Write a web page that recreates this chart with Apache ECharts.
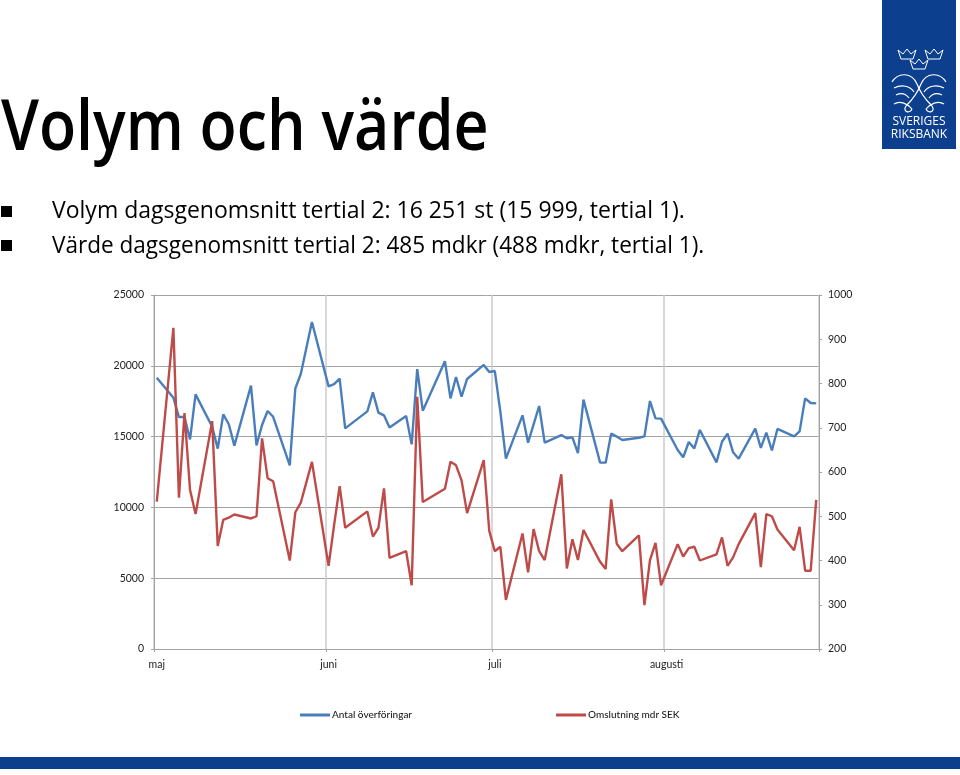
<!DOCTYPE html>
<html><head><meta charset="utf-8">
<script src="https://cdn.jsdelivr.net/npm/echarts@6/dist/echarts.min.js"></script>
<style>html,body{margin:0;padding:0;background:#fff}#c{width:960px;height:775px}</style>
</head><body><div id="c"></div>
<script>
const titleText = 'Volym och värde';
const bullets = ['Volym dagsgenomsnitt tertial 2: 16 251 st (15 999, tertial 1).','Värde dagsgenomsnitt tertial 2: 485 mdkr (488 mdkr, tertial 1).'];
const seriesNames = ['Antal överföringar','Omslutning mdr SEK'];
const monthLabels = ['maj','juni','juli','augusti'];
const monthStarts = [0,31,61,92];
const totalDays = 120;
const days = [0,3,4,5,6,7,10,11,12,13,14,17,18,19,20,21,24,25,26,28,31,32,33,34,38,39,40,41,42,45,46,47,48,52,53,54,55,56,59,60,61,62,63,66,67,68,69,70,73,74,75,76,77,80,81,82,83,84,87,88,89,90,91,94,95,96,97,98,101,102,103,104,105,108,109,110,111,112,115,116,117,118,119];
const volume = [19160,17750,16380,16380,14800,17980,15700,14150,16570,15870,14360,18600,14380,15820,16810,16400,12970,18400,19440,23090,18550,18700,19090,15580,16780,18120,16690,16500,15650,16450,14450,19770,16830,20320,17700,19210,17820,19070,20060,19560,19630,16760,13440,16500,14570,15870,17160,14570,15110,14880,14950,13840,17610,13160,13160,15210,15000,14760,14920,15020,17510,16290,16270,14050,13540,14620,14170,15470,13180,14640,15210,13890,13440,15560,14200,15280,14030,15540,15020,15370,17700,17370,17350];
const turnover = [533,926,542,733,560,505,715,433,492,497,504,495,500,676,586,579,400,509,531,623,388,480,568,474,511,454,474,563,406,421,344,770,532,562,623,615,581,507,627,467,421,431,311,461,373,471,421,401,595,382,448,401,469,397,381,538,438,421,457,299,401,440,344,437,409,428,431,400,414,452,388,407,437,507,385,505,500,470,423,476,377,377,537];

const categories = Array.from({length: totalDays}, (_, i) => {
  const m = monthStarts.indexOf(i);
  return m >= 0 ? monthLabels[m] : String(i);
});
function onDays(vals){
  const out = new Array(totalDays).fill(null);
  days.forEach((d, k) => { out[d] = vals[k]; });
  return out;
}
const isMonth = i => monthStarts.includes(i);
const BLUE = '#4a7ebb', RED = '#be4b48', NAVY = '#0d3f8f';
const W = '#fff';
const plain = v => String(v);

function crown(cx, cy){
  const s = [[-9,-6],[-6,3],[6,3],[9,-6],[4,-2],[0,-7],[-4,-2]];
  return {type:'polygon', shape:{points:s.map(p=>[cx+p[0],cy+p[1]])}, style:{fill:'none',stroke:W,lineWidth:1}};
}
function curve(x1,y1,a,b,c,d,x2,y2){
  return {type:'bezierCurve', shape:{x1,y1,cpx1:a,cpy1:b,cpx2:c,cpy2:d,x2,y2}, style:{fill:'none',stroke:W,lineWidth:1.2}};
}

const chart = echarts.init(document.getElementById('c'));
chart.setOption({
  animation:false,
  backgroundColor:'#fff',
  textStyle:{fontFamily:'Lato,sans-serif'},
  grid:{left:154,right:141,top:295,bottom:126,containLabel:false},
  legend:{
    left:295, top:705, itemWidth:30, itemHeight:3, itemGap:144,
    icon:'rect', data:seriesNames,
    textStyle:{fontSize:10,color:'#222',fontWeight:500,padding:[0,0,0,-3],fontFamily:'Lato,sans-serif'}
  },
  xAxis:{
    type:'category', data:categories, boundaryGap:true,
    axisLine:{lineStyle:{color:'#a3a3a3',width:1}},
    axisTick:{show:true,length:3,interval:i=>isMonth(i),lineStyle:{color:'#a3a3a3'}},
    axisLabel:{interval:i=>isMonth(i),margin:10,fontSize:10.5,color:'#222'},
    splitLine:{show:true,interval:i=>isMonth(i),lineStyle:{color:'#cbcbcb',width:1.5}}
  },
  yAxis:[
    {type:'value',min:0,max:25000,interval:5000,
     axisLine:{show:true,lineStyle:{color:'#a3a3a3'}},
     axisTick:{show:true,length:3,lineStyle:{color:'#a3a3a3'}},
     axisLabel:{margin:10,fontSize:10.5,color:'#222',formatter:plain},
     splitLine:{show:true,lineStyle:{color:'#a3a3a3',width:1}}},
    {type:'value',min:200,max:1000,interval:100,position:'right',
     axisLine:{show:true,lineStyle:{color:'#a3a3a3'}},
     axisTick:{show:true,length:3,lineStyle:{color:'#a3a3a3'}},
     axisLabel:{margin:9,fontSize:10.5,color:'#222',formatter:plain},
     splitLine:{show:false}}
  ],
  series:[
    {name:seriesNames[0],type:'line',yAxisIndex:0,data:onDays(volume),connectNulls:true,showSymbol:false,symbol:'none',
     lineStyle:{color:BLUE,width:2.4},itemStyle:{color:BLUE}},
    {name:seriesNames[1],type:'line',yAxisIndex:1,data:onDays(turnover),connectNulls:true,showSymbol:false,symbol:'none',
     lineStyle:{color:RED,width:2.4},itemStyle:{color:RED}}
  ],
  graphic:[
    {type:'text',x:1,y:95,scaleX:0.87,style:{text:titleText,font:'600 70px "Open Sans",sans-serif',fill:'#000'}},
    {type:'rect',shape:{x:1,y:206,width:11,height:11},style:{fill:'#000'}},
    {type:'rect',shape:{x:1,y:240,width:11,height:11},style:{fill:'#000'}},
    {type:'text',x:52,y:200,style:{text:bullets[0],font:'23px "Open Sans",sans-serif',fill:'#000'}},
    {type:'text',x:52,y:235,scaleX:0.98,style:{text:bullets[1],font:'23px "Open Sans",sans-serif',fill:'#000'}},
    {type:'rect',shape:{x:0,y:757,width:960,height:12},style:{fill:NAVY}},
    {type:'rect',shape:{x:882,y:0,width:74,height:149},style:{fill:NAVY}},
    crown(907,56), crown(934,56), crown(919,66),
    curve(892,82,898,72,912,72,917,84), curve(917,84,920,92,926,100,932,106),
    curve(946,82,940,72,926,72,921,84), curve(921,84,918,92,912,100,906,106),
    curve(894,88,902,84,910,86,914,92),
    curve(944,88,936,84,928,86,924,92),
    curve(896,95,902,92,906,94,909,98),
    curve(942,95,936,92,932,94,929,98),
    curve(894,104,900,100,908,104,912,109),
    curve(944,104,938,100,930,104,926,109),
    curve(906,106,902,112,910,114,912,109),
    curve(932,106,936,112,928,114,926,109),
    {type:'text',x:919,y:116,style:{text:'SVERIGES',align:'center',font:'12px "Open Sans",sans-serif',fill:W}},
    {type:'text',x:919,y:129,style:{text:'RIKSBANK',align:'center',font:'12px "Open Sans",sans-serif',fill:W}}
  ]
});
</script></body></html>
